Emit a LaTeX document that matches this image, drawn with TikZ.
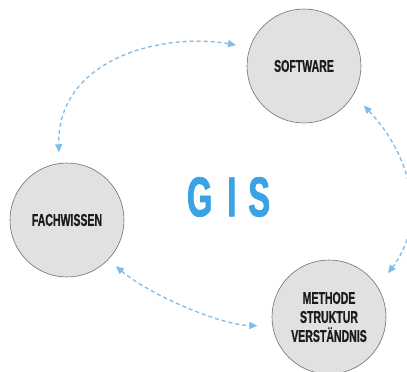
\documentclass[tikz,border=0pt]{standalone}
\usepackage{fontspec}
\setmainfont{Liberation Sans}
\newfontfamily\labelfont[FakeStretch=0.62,FakeBold=0.8]{Liberation Sans}
\newfontfamily\titlefont[FakeStretch=0.58,FakeBold=1.5]{Liberation Sans}
\usetikzlibrary{arrows.meta}
\definecolor{circfill}{HTML}{E1E1E1}
\definecolor{circborder}{HTML}{707070}
\definecolor{labeltext}{HTML}{1C1C1C}
\definecolor{linkblue}{HTML}{7DBDEB}
\definecolor{titleblue}{HTML}{3AA3E3}
\begin{document}
\begin{tikzpicture}[x=1pt,y=-1pt,
  topic/.style={circle, draw=circborder, fill=circfill, line width=0.6pt,
    minimum size=114pt, inner sep=0pt, align=center, text=labeltext,
    font=\labelfont\bfseries\fontsize{17}{19}\selectfont},
  link/.style={draw=linkblue, line width=1.3pt, dash pattern=on 4pt off 3pt,
    {Triangle[length=8pt,width=7pt]}-{Triangle[length=8pt,width=7pt]}}]
  % canvas
  \fill[white] (0,0) rectangle (407,372);
  \useasboundingbox (0,0) rectangle (407,372);

  % the three topics
  \node[topic] (soft) at (304,66) {SOFTWARE};
  \node[topic] (fach) at (67,220) {FACHWISSEN};
  \node[topic] (meth) at (329,317) {METHODE\\STRUKTUR\\VERSTÄNDNIS};

  % central title
  \node[text=titleblue, font=\titlefont\bfseries\fontsize{56}{56}\selectfont,
        inner sep=0pt] (gis) at (228.5,197) {G\hspace{15pt}I\hspace{12pt}S};

  % links between the topics
  \draw[link, shorten <=14pt, shorten >=11pt]
    (soft.161) .. controls (160,32) and (57,60) .. (fach.98);
  \draw[link, shorten <=15pt, shorten >=17pt]
    (soft.-30) .. controls (415,160) and (425,225) .. (meth.32);
  \draw[link, shorten <=10pt, shorten >=15pt]
    (fach.-44) .. controls (150,295) and (220,325) .. (meth.189);
\end{tikzpicture}
\end{document}
